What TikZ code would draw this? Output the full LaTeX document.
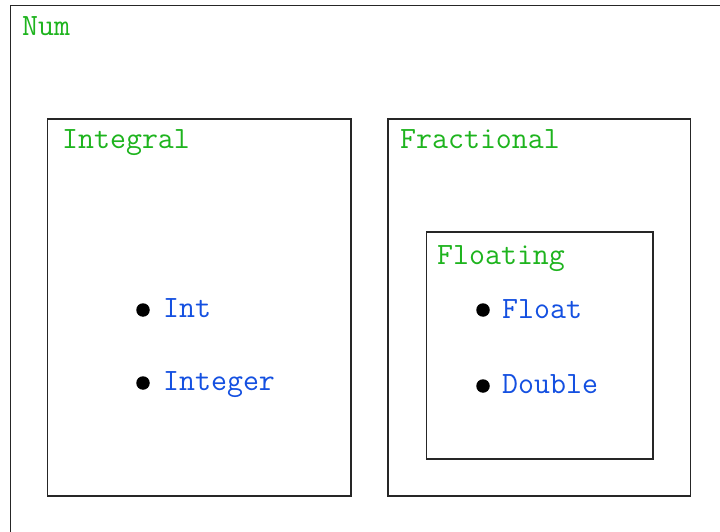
\documentclass[tikz,border=0pt]{standalone}
\usepackage{fontspec}
\definecolor{lblgreen}{RGB}{30,180,30}
\definecolor{itemblue}{RGB}{20,80,225}
\begin{document}
\begin{tikzpicture}[x=1pt,y=1pt,
  boxline/.style={draw=black!85,line width=1.1pt},
  classlbl/.style={anchor=base west,inner sep=0pt,text=lblgreen,font=\fontsize{31}{37}\selectfont\ttfamily},
  itemlbl/.style={anchor=base west,inner sep=0pt,text=itemblue,font=\fontsize{31}{37}\selectfont\ttfamily},
  dot/.style={circle,fill=black,inner sep=0pt,minimum size=13.5pt}]
\useasboundingbox (0,0) rectangle (720,531);
\fill[white] (0,0) rectangle (720,531);
% boxes
\draw[boxline] (10.5,525.5) rectangle (745,-20);
\draw[boxline] (47.5,412) rectangle (351,35);
\draw[boxline] (388,412) rectangle (690.5,35);
\draw[boxline] (426.5,299) rectangle (653,72);
% labels
\node[classlbl] (num) at (22,495) {Num};
\node[classlbl] (integral) at (62,382) {Integral};
\node[classlbl] (fractional) at (400,382) {Fractional};
\node[classlbl] (floating) at (437,267) {Floating};
% items
\node[dot] (b1) at (143,221) {};
\node[itemlbl] (int) at (163,214) {Int};
\node[dot] (b2) at (143,148) {};
\node[itemlbl] (integer) at (163,141) {Integer};
\node[dot] (b3) at (483,221) {};
\node[itemlbl] (float) at (502,213) {Float};
\node[dot] (b4) at (483,145) {};
\node[itemlbl] (double) at (502,138) {Double};
\end{tikzpicture}
\end{document}
